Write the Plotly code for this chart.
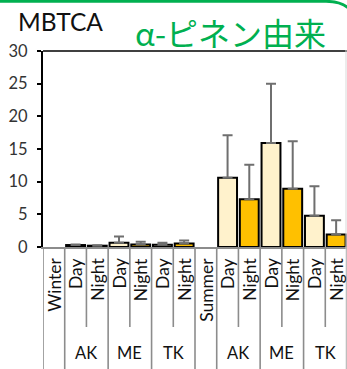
import plotly.graph_objects as go

# ---- data -------------------------------------------------------------
categories = ["Winter", "Day", "Night", "Day", "Night", "Day", "Night",
              "Summer", "Day", "Night", "Day", "Night", "Day", "Night"]
groups = ["", "AK", "AK", "ME", "ME", "TK", "TK",
          "", "AK", "AK", "ME", "ME", "TK", "TK"]
group_labels = ["AK", "ME", "TK", "AK", "ME", "TK"]

# mean values and upper end of the error bar, Day / Night series
day_mean = [0.3, 0.65, 0.35, 10.6, 15.9, 4.8]
day_upper = [0.4, 1.6, 0.65, 17.1, 25.0, 9.3]
night_mean = [0.2, 0.4, 0.55, 7.3, 8.9, 1.9]
night_upper = [0.25, 0.8, 1.0, 12.6, 16.2, 4.1]

y_ticks = [0, 5, 10, 15, 20, 25, 30]

# ---- geometry ---------------------------------------------------------
W, H = 347, 369
M_L, M_R, M_T, M_B = 43, 0, 51, 122
PW, PH = W - M_L - M_R, H - M_T - M_B


def px_x(p):
    return (p - M_L) / PW


def px_y(p):
    return (H - M_B - p) / PH


day_x = [i for i, c in enumerate(categories) if c == "Day"]
night_x = [i for i, c in enumerate(categories) if c == "Night"]

DAY_COLOR = "#FFF2CC"
NIGHT_COLOR = "#FFC000"
ERR_COLOR = "#6f6f6f"
GRID_GRAY = "#8c8c8c"
TXT = "#111111"
FONT = "Lato, 'Noto Sans', sans-serif"

fig = go.Figure()
for xs, mean, upper, color in [(day_x, day_mean, day_upper, DAY_COLOR),
                               (night_x, night_mean, night_upper, NIGHT_COLOR)]:
    fig.add_trace(go.Bar(
        x=xs, y=mean, width=0.87,
        marker=dict(color=color, line=dict(color="black", width=2)),
        error_y=dict(type="data", symmetric=False,
                     array=[u - m for u, m in zip(upper, mean)],
                     arrayminus=[0] * len(mean),
                     color=ERR_COLOR, thickness=2, width=5),
        showlegend=False,
    ))

shapes = []
annotations = []

# category dividers below the baseline (long between groups, short inside)
n = len(categories)
for b in range(n + 1):
    left = groups[b - 1] if b > 0 else None
    right = groups[b] if b < n else None
    same_group = left is not None and right is not None and left == right and left != ""
    y_end = px_y(327) if same_group else px_y(H + 2)
    shapes.append(dict(type="line", xref="x", yref="paper",
                       x0=b - 0.5, x1=b - 0.5, y0=0, y1=y_end,
                       line=dict(color=GRID_GRAY, width=1.6)))

# top border of the plot area
shapes.append(dict(type="line", xref="paper", yref="paper", x0=0, x1=1, y0=1, y1=1,
                   line=dict(color="black", width=1.6)))
# faint right edge
shapes.append(dict(type="line", xref="paper", yref="paper",
                   x0=px_x(346), x1=px_x(346), y0=px_y(50), y1=px_y(H),
                   line=dict(color="#d9d9d9", width=1)))

# green slide frame with rounded top-right corner
frame = (f"M {px_x(-2)},{px_y(1.3)} L {px_x(326)},{px_y(1.3)} "
         f"Q {px_x(343)},{px_y(1.3)} {px_x(350)},{px_y(10)}")
shapes.append(dict(type="path", xref="paper", yref="paper", path=frame,
                   line=dict(color="#00B050", width=2.8)))

# rotated category labels
for i, c in enumerate(categories):
    annotations.append(dict(x=i, y=px_y(256), xref="x", yref="paper",
                            text=c, textangle=-90, showarrow=False,
                            xanchor="center", yanchor="top",
                            font=dict(family=FONT, size=17.5, color=TXT)))

# group labels under each Day/Night pair
pair_centers = [(day + night) / 2 for day, night in zip(day_x, night_x)]
for xc, g in zip(pair_centers, group_labels):
    annotations.append(dict(x=xc, y=px_y(353), xref="x", yref="paper",
                            text=g, showarrow=False, xanchor="center", yanchor="middle",
                            font=dict(family=FONT, size=16.5, color=TXT)))

# titles
annotations.append(dict(x=px_x(16), y=px_y(22), xref="paper", yref="paper",
                        text="MBTCA", showarrow=False, xanchor="left", yanchor="middle",
                        font=dict(family=FONT, size=24.5, color="#111111")))
annotations.append(dict(x=px_x(133), y=px_y(32), xref="paper", yref="paper",
                        text="α-ピネン由来", showarrow=False, xanchor="left", yanchor="middle",
                        font=dict(family="'Noto Sans CJK JP', 'Noto Sans', sans-serif",
                                  size=32, color="#00B050")))

fig.update_layout(
    width=W, height=H,
    margin=dict(l=M_L, r=M_R, t=M_T, b=M_B, pad=0),
    paper_bgcolor="white", plot_bgcolor="white",
    barmode="overlay",
    shapes=shapes, annotations=annotations,
    xaxis=dict(range=[-0.5, n - 0.5], showticklabels=False, ticks="",
               showgrid=False, zeroline=False,
               showline=True, linecolor=GRID_GRAY, linewidth=1.6),
    yaxis=dict(range=[0, 30], tickvals=y_ticks, ticks="outside", ticklen=4,
               tickwidth=1.5, tickcolor="black", showgrid=False, zeroline=False,
               showline=True, linecolor="black", linewidth=2,
               ticklabelstandoff=6,
               tickfont=dict(family=FONT, size=16.5, color="#333333")),
)

fig.write_html("out.html")
